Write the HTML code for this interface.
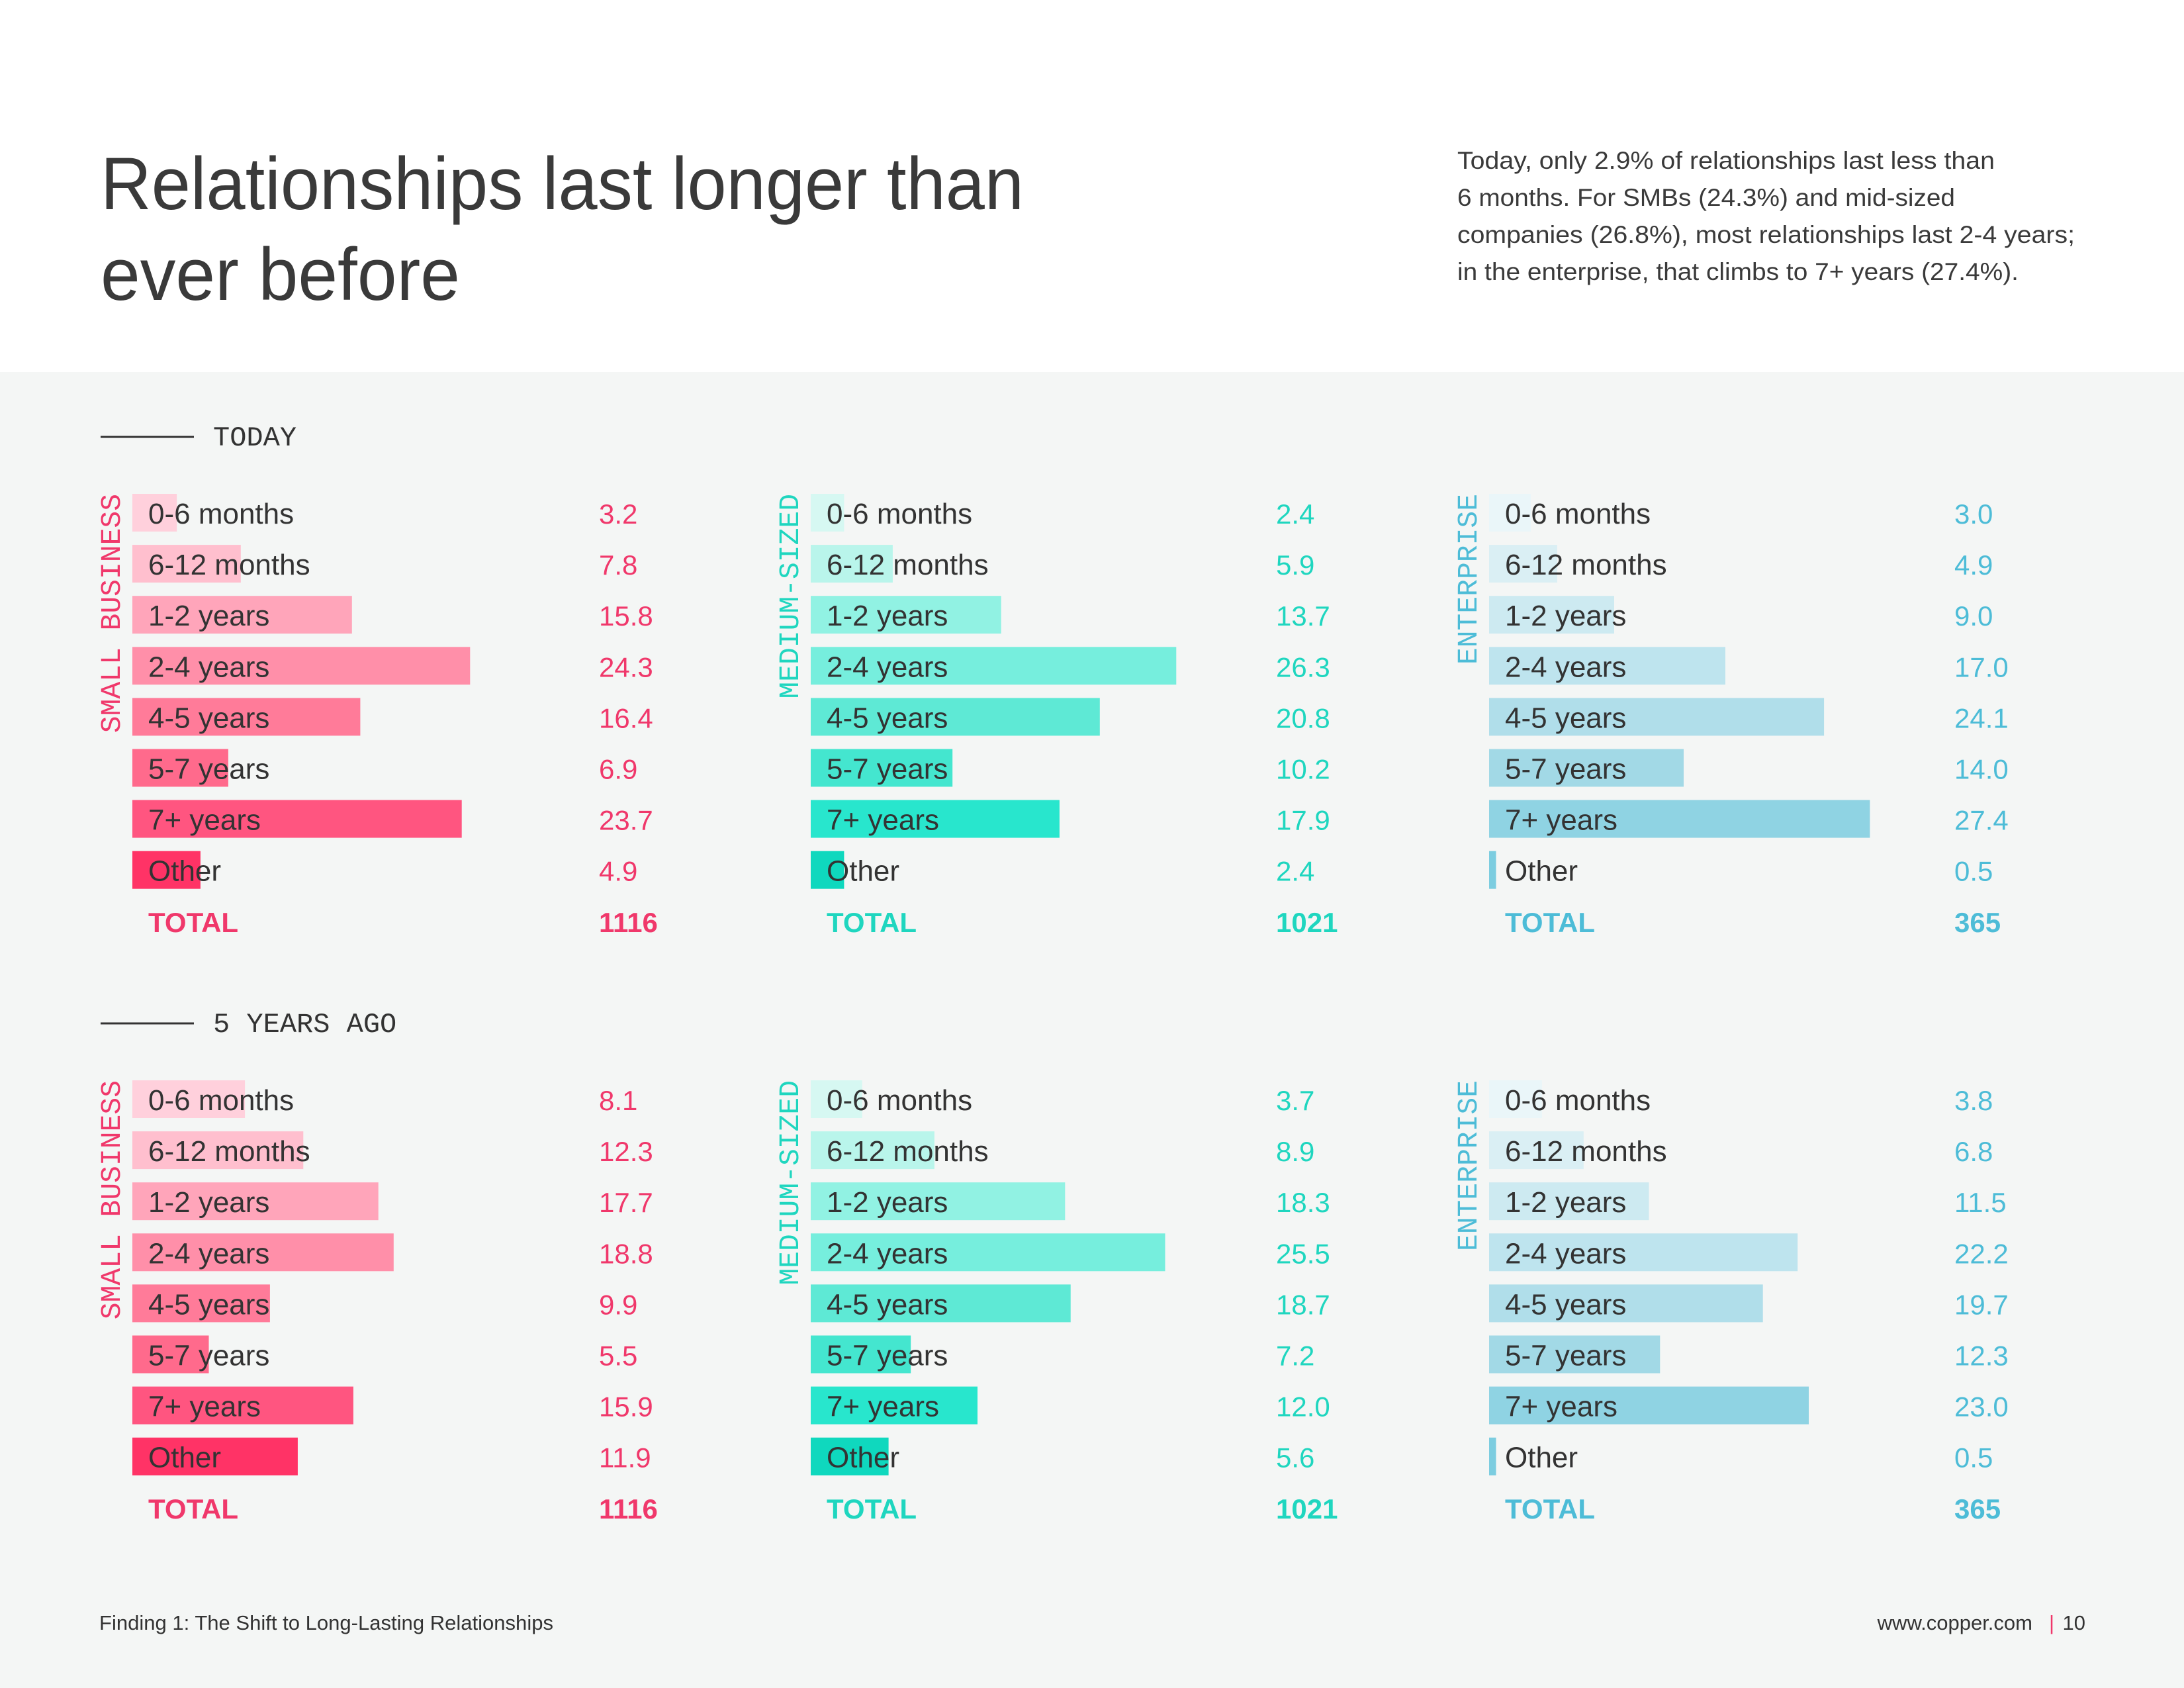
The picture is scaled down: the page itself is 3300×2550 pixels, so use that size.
<!DOCTYPE html>
<html><head><meta charset="utf-8"><style>
html,body{margin:0;padding:0;background:#fff}
svg{display:block}
</style></head><body>
<svg id="chart" width="3300" height="2550" viewBox="0 0 3300 2550" xmlns="http://www.w3.org/2000/svg">
<rect x="0" y="0" width="3300" height="562" fill="#ffffff"/>
<rect x="0" y="562" width="3300" height="1988" fill="#f4f6f5"/>
<g font-family="Liberation Sans, sans-serif" fill="#3a3a3a">
<text x="152" y="316" font-size="112" textLength="1395" lengthAdjust="spacingAndGlyphs">Relationships last longer than</text>
<text x="152" y="453" font-size="112" textLength="543" lengthAdjust="spacingAndGlyphs">ever before</text>
</g>
<g font-family="Liberation Sans, sans-serif" fill="#3a3a3a" font-size="37">
<text x="2202" y="255" textLength="812" lengthAdjust="spacingAndGlyphs">Today, only 2.9% of relationships last less than</text>
<text x="2202" y="311" textLength="752" lengthAdjust="spacingAndGlyphs">6 months. For SMBs (24.3%) and mid-sized</text>
<text x="2202" y="367" textLength="933" lengthAdjust="spacingAndGlyphs">companies (26.8%), most relationships last 2-4 years;</text>
<text x="2202" y="423" textLength="848" lengthAdjust="spacingAndGlyphs">in the enterprise, that climbs to 7+ years (27.4%).</text>
</g>
<g id="sections"></g>
<g font-family="Liberation Sans, sans-serif" fill="#333" font-size="31">
<text x="150" y="2462" textLength="686" lengthAdjust="spacingAndGlyphs">Finding 1: The Shift to Long-Lasting Relationships</text>
<text x="3071" y="2462" text-anchor="end">www.copper.com</text>
<text x="3096" y="2462" fill="#f0386b">|</text>
<text x="3151" y="2462" text-anchor="end">10</text>
</g>
</svg>
<script>
const categories = ["0-6 months","6-12 months","1-2 years","2-4 years","4-5 years","5-7 years","7+ years","Other"];
const sectionTitles = ["TODAY","5 YEARS AGO"];
const groupNames = ["SMALL BUSINESS","MEDIUM-SIZED","ENTERPRISE"];
const todaySmall = [3.2,7.8,15.8,24.3,16.4,6.9,23.7,4.9];
const todayMedium = [2.4,5.9,13.7,26.3,20.8,10.2,17.9,2.4];
const todayEnterprise = [3.0,4.9,9.0,17.0,24.1,14.0,27.4,0.5];
const pastSmall = [8.1,12.3,17.7,18.8,9.9,5.5,15.9,11.9];
const pastMedium = [3.7,8.9,18.3,25.5,18.7,7.2,12.0,5.6];
const pastEnterprise = [3.8,6.8,11.5,22.2,19.7,12.3,23.0,0.5];
const totals = [1116,1021,365];

const NS="http://www.w3.org/2000/svg";
const colors=[
 ["#ffd0dc","#ffbfce","#ffa5ba","#ff8fa9","#ff7b99","#ff6a8c","#ff5580","#ff3366"],
 ["#d6f8f2","#b9f5eb","#91f2e3","#76eedd","#5ee9d5","#44e6cf","#28e6cd","#0fd8be"],
 ["#eaf6f9","#daeff4","#cdeaf1","#bee4ee","#b0deea","#a2d9e6","#8fd3e3","#7ccde0"]];
const textColors=["#f0386b","#1fd6bf","#4dbcd7"];
const groupX=[200,1225,2250];
const valX=[905,1928,2953];
const sectionY=[657,1543];
const unit=21;
const sections=[[todaySmall,todayMedium,todayEnterprise],[pastSmall,pastMedium,pastEnterprise]];
function xs(v){return v*unit;}
function rowY(secTop,i){return secTop+118+i*77.1;}
function mk(tag,attrs,parent,txt){const e=document.createElementNS(NS,tag);for(const k in attrs)e.setAttribute(k,attrs[k]);if(txt!==undefined)e.textContent=txt;parent.appendChild(e);return e;}
const root=document.getElementById('sections');
sections.forEach((sec,s)=>{
  const top=sectionY[s];
  const g=mk('g',{},root);
  
  
  const ln=mk('line',{x1:152,x2:293,y1:top+3,y2:top+3,stroke:'#333','stroke-width':3},g);
  
  
  const st=mk('text',{x:322,y:top+16,'font-family':'Liberation Mono, monospace','font-size':42,fill:'#333'},g,sectionTitles[s]);
  
  
  sec.forEach((vals,gi)=>{
    const gg=mk('g',{},g);
    
    
    const firstTop=rowY(top,0)-29;
    const gl=mk('text',{x:groupX[gi]-19,y:firstTop,'font-family':'Liberation Mono, monospace','font-size':43,fill:textColors[gi],'text-anchor':'end',transform:`rotate(-90 ${groupX[gi]-19} ${firstTop})`},gg,groupNames[gi]);
    
    
    vals.forEach((v,i)=>{
      const cy=rowY(top,i);
      const r=mk('rect',{x:groupX[gi],y:cy-29,width:xs(v),height:57,fill:colors[gi][i]},gg);
      
      
      const t=mk('text',{x:groupX[gi]+24,y:cy+16,'font-family':'Liberation Sans, sans-serif','font-size':44,fill:'#333'},gg,categories[i]);
      
      
      const vt=mk('text',{x:valX[gi],y:cy+16,'font-family':'Liberation Sans, sans-serif','font-size':42,fill:textColors[gi]},gg,v.toFixed(1));
      
      
    });
    const ty=rowY(top,8)+16;
    const tl=mk('text',{x:groupX[gi]+24,y:ty,'font-family':'Liberation Sans, sans-serif','font-size':42,'font-weight':'bold',fill:textColors[gi]},gg,'TOTAL');
    
    
    const tv=mk('text',{x:valX[gi],y:ty,'font-family':'Liberation Sans, sans-serif','font-size':42,'font-weight':'bold',fill:textColors[gi]},gg,String(totals[gi]));
    
    
  });
});
</script>
</body></html>
